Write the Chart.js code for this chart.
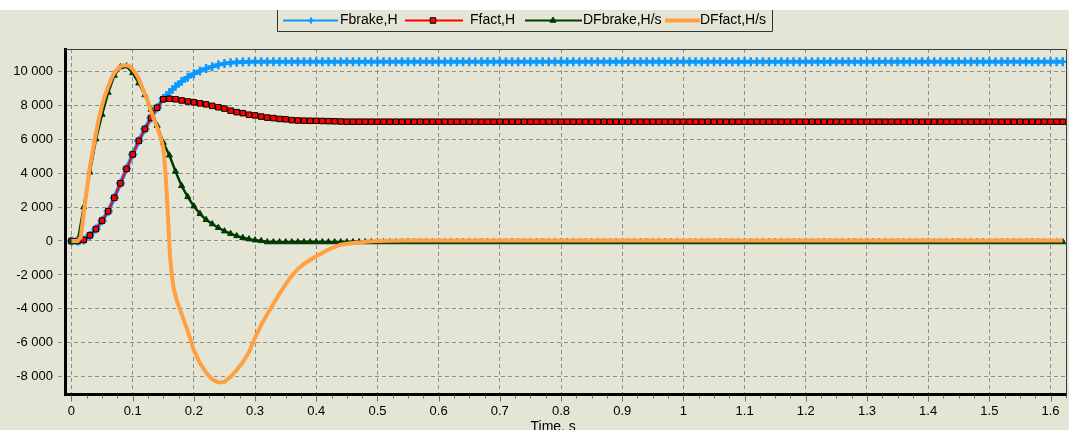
<!DOCTYPE html>
<html>
<head>
<meta charset="utf-8">
<title>Fbrake / Ffact</title>
<script src="https://cdn.jsdelivr.net/npm/chart.js@4/dist/chart.umd.min.js"></script>
<style>
  html, body { margin: 0; padding: 0; background: #ffffff; }
  canvas { display: block; }
</style>
</head>
<body>
<canvas id="chart" width="1069" height="430"></canvas>
<script>
// Sample instants for the sampled signals, s
const time = [
  0, 0.01, 0.02, 0.03, 0.04, 0.05, 0.06, 0.07, 0.08, 0.09,
  0.1, 0.11, 0.12, 0.13, 0.14, 0.15, 0.16, 0.17, 0.18, 0.19,
  0.2, 0.21, 0.22, 0.23, 0.24, 0.25, 0.26, 0.27, 0.28, 0.29,
  0.3, 0.31, 0.32, 0.33, 0.34, 0.35, 0.36, 0.37, 0.38, 0.39,
  0.4, 0.41, 0.42, 0.43, 0.44, 0.45, 0.46, 0.47, 0.48, 0.49,
  0.5, 0.51, 0.52, 0.53, 0.54, 0.55, 0.56, 0.57, 0.58, 0.59,
  0.6, 0.61, 0.62, 0.63, 0.64, 0.65, 0.66, 0.67, 0.68, 0.69,
  0.7, 0.71, 0.72, 0.73, 0.74, 0.75, 0.76, 0.77, 0.78, 0.79,
  0.8, 0.81, 0.82, 0.83, 0.84, 0.85, 0.86, 0.87, 0.88, 0.89,
  0.9, 0.91, 0.92, 0.93, 0.94, 0.95, 0.96, 0.97, 0.98, 0.99,
  1, 1.01, 1.02, 1.03, 1.04, 1.05, 1.06, 1.07, 1.08, 1.09,
  1.1, 1.11, 1.12, 1.13, 1.14, 1.15, 1.16, 1.17, 1.18, 1.19,
  1.2, 1.21, 1.22, 1.23, 1.24, 1.25, 1.26, 1.27, 1.28, 1.29,
  1.3, 1.31, 1.32, 1.33, 1.34, 1.35, 1.36, 1.37, 1.38, 1.39,
  1.4, 1.41, 1.42, 1.43, 1.44, 1.45, 1.46, 1.47, 1.48, 1.49,
  1.5, 1.51, 1.52, 1.53, 1.54, 1.55, 1.56, 1.57, 1.58, 1.59,
  1.6, 1.61, 1.62
];

// Commanded braking force, H
const fbrake = [
  0, 0, 60, 330, 700, 1200, 1750, 2550, 3400, 4250,
  5100, 5900, 6600, 7250, 7850, 8400, 8750, 9100, 9400, 9650,
  9850, 10020, 10160, 10270, 10380, 10450, 10500, 10530, 10550, 10560,
  10560, 10560, 10560, 10560, 10560, 10560, 10560, 10560, 10560, 10560,
  10560, 10560, 10560, 10560, 10560, 10560, 10560, 10560, 10560, 10560,
  10560, 10560, 10560, 10560, 10560, 10560, 10560, 10560, 10560, 10560,
  10560, 10560, 10560, 10560, 10560, 10560, 10560, 10560, 10560, 10560,
  10560, 10560, 10560, 10560, 10560, 10560, 10560, 10560, 10560, 10560,
  10560, 10560, 10560, 10560, 10560, 10560, 10560, 10560, 10560, 10560,
  10560, 10560, 10560, 10560, 10560, 10560, 10560, 10560, 10560, 10560,
  10560, 10560, 10560, 10560, 10560, 10560, 10560, 10560, 10560, 10560,
  10560, 10560, 10560, 10560, 10560, 10560, 10560, 10560, 10560, 10560,
  10560, 10560, 10560, 10560, 10560, 10560, 10560, 10560, 10560, 10560,
  10560, 10560, 10560, 10560, 10560, 10560, 10560, 10560, 10560, 10560,
  10560, 10560, 10560, 10560, 10560, 10560, 10560, 10560, 10560, 10560,
  10560, 10560, 10560, 10560, 10560, 10560, 10560, 10560, 10560, 10560,
  10560, 10560, 10560
];

// Actual braking force, H
const ffact = [
  0, 0, 60, 330, 700, 1200, 1750, 2550, 3400, 4250,
  5100, 5900, 6600, 7250, 7850, 8350, 8380, 8350, 8280, 8220,
  8170, 8110, 8050, 7960, 7880, 7800, 7680, 7590, 7530, 7440,
  7400, 7330, 7270, 7240, 7190, 7170, 7120, 7100, 7090, 7080,
  7080, 7070, 7060, 7050, 7040, 7030, 7030, 7030, 7030, 7030,
  7030, 7030, 7030, 7030, 7030, 7030, 7030, 7030, 7030, 7030,
  7030, 7030, 7030, 7030, 7030, 7030, 7030, 7030, 7030, 7030,
  7030, 7030, 7030, 7030, 7030, 7030, 7030, 7030, 7030, 7030,
  7030, 7030, 7030, 7030, 7030, 7030, 7030, 7030, 7030, 7030,
  7030, 7030, 7030, 7030, 7030, 7030, 7030, 7030, 7030, 7030,
  7030, 7030, 7030, 7030, 7030, 7030, 7030, 7030, 7030, 7030,
  7030, 7030, 7030, 7030, 7030, 7030, 7030, 7030, 7030, 7030,
  7030, 7030, 7030, 7030, 7030, 7030, 7030, 7030, 7030, 7030,
  7030, 7030, 7030, 7030, 7030, 7030, 7030, 7030, 7030, 7030,
  7030, 7030, 7030, 7030, 7030, 7030, 7030, 7030, 7030, 7030,
  7030, 7030, 7030, 7030, 7030, 7030, 7030, 7030, 7030, 7030,
  7030, 7030, 7030
];

// Rate of the commanded force, H/s
const dfbrake = [
  -60, -60, 2000, 4050, 6000, 7450, 8750, 9750, 10250, 10300,
  9900, 9300, 8600, 7750, 6800, 5800, 5050, 4100, 3250, 2600,
  2050, 1600, 1250, 1000, 780, 580, 430, 300, 190, 110,
  50, 10, -60, -60, -60, -60, -60, -60, -60, -60,
  -60, -60, -60, -60, -60, -60, -60, -60, -60, -60,
  -60, -60, -60, -60, -60, -60, -60, -60, -60, -60,
  -60, -60, -60, -60, -60, -60, -60, -60, -60, -60,
  -60, -60, -60, -60, -60, -60, -60, -60, -60, -60,
  -60, -60, -60, -60, -60, -60, -60, -60, -60, -60,
  -60, -60, -60, -60, -60, -60, -60, -60, -60, -60,
  -60, -60, -60, -60, -60, -60, -60, -60, -60, -60,
  -60, -60, -60, -60, -60, -60, -60, -60, -60, -60,
  -60, -60, -60, -60, -60, -60, -60, -60, -60, -60,
  -60, -60, -60, -60, -60, -60, -60, -60, -60, -60,
  -60, -60, -60, -60, -60, -60, -60, -60, -60, -60,
  -60, -60, -60, -60, -60, -60, -60, -60, -60, -60,
  -60, -60, -60
];

// Rate of the actual force, H/s (finer sampling through the fast transient)
const timeFact = [
  0, 0.01, 0.015, 0.02, 0.025, 0.03, 0.035, 0.04, 0.045, 0.05,
  0.055, 0.06, 0.065, 0.07, 0.075, 0.08, 0.085, 0.09, 0.095, 0.1,
  0.105, 0.11, 0.115, 0.12, 0.125, 0.13, 0.135, 0.14, 0.145, 0.15,
  0.153, 0.155, 0.157, 0.159, 0.161, 0.164, 0.167, 0.172, 0.178, 0.19,
  0.2, 0.21, 0.22, 0.23, 0.24, 0.25, 0.26, 0.27, 0.28, 0.29,
  0.3, 0.31, 0.32, 0.33, 0.34, 0.35, 0.36, 0.37, 0.38, 0.39,
  0.4, 0.41, 0.42, 0.43, 0.44, 0.45, 0.46, 0.47, 0.48, 0.49,
  0.5, 0.52, 0.55, 1.62
];
const dffact = [
  0, 0, 200, 1600, 3000, 4350, 5350, 6350, 7250, 8000,
  8600, 9100, 9550, 9900, 10120, 10280, 10360, 10360, 10290, 10120,
  9880, 9550, 9100, 8650, 8200, 7650, 7150, 6700, 6200, 5500,
  4300, 3200, 1900, 500, -900, -2000, -2800, -3500, -4100, -5300,
  -6450, -7200, -7750, -8150, -8340, -8300, -8000, -7600, -7150, -6550,
  -5700, -4950, -4300, -3700, -3100, -2550, -2050, -1650, -1350, -1120,
  -900, -700, -500, -360, -220, -160, -120, -85, -50, -20,
  0, 20, 30, 30
];

// Axis tick values
const xTicks = [0, 0.1, 0.2, 0.3, 0.4, 0.5, 0.6, 0.7, 0.8, 0.9, 1, 1.1, 1.2, 1.3, 1.4, 1.5, 1.6];
const yTicks = [-8000, -6000, -4000, -2000, 0, 2000, 4000, 6000, 8000, 10000];
const xMinorStep = 0.025;

const seriesNames = ['Fbrake,H', 'Ffact,H', 'DFbrake,H/s', 'DFfact,H/s'];
const xAxisTitle = 'Time, s';

const PANEL = '#E5E5D5';
const GRID = '#8E8E8E';
const BLUE = '#0C98FF';
const RED = '#FF0000';
const GREEN = '#003A00';
const ORANGE = '#FFA042';
const FONT = 'Liberation Sans, Arial, sans-serif';

const toPoints = (xs, ys) => xs.map((x, i) => ({ x: x, y: ys[i] }));

function formatThousands(v) {
  const r = Math.round(v);
  const s = Math.abs(r).toString().replace(/\B(?=(\d{3})+(?!\d))/g, ' ');
  return (r < 0 ? '-' : '') + s;
}
function formatTime(v) {
  const r = Math.round(v * 10) / 10;
  return Number.isInteger(r) ? String(r) : r.toFixed(1);
}

// Beige panel behind everything, white strip on top
const panelPlugin = {
  id: 'panel',
  beforeDraw(chart) {
    const c = chart.ctx;
    c.save();
    c.fillStyle = '#ffffff';
    c.fillRect(0, 0, chart.width, chart.height);
    c.fillStyle = PANEL;
    c.fillRect(0, 10, chart.width, chart.height - 10);
    c.restore();
  }
};

// Frame, minor ticks, legend and axis title
const decorPlugin = {
  id: 'decor',
  afterDraw(chart) {
    const c = chart.ctx;
    const a = chart.chartArea;
    const xs = chart.scales.x;
    c.save();

    // thin top and right frame
    c.lineWidth = 1;
    c.strokeStyle = '#3C3C3C';
    c.beginPath();
    c.moveTo(a.left, Math.round(a.top) + 0.5);
    c.lineTo(a.right + 0.5, Math.round(a.top) + 0.5);
    c.lineTo(a.right + 0.5, a.bottom);
    c.stroke();

    // tick marks under the time axis
    c.strokeStyle = '#6E6E6E';
    const nMinor = Math.round(xs.max / xMinorStep);
    for (let k = 0; k <= nMinor; k++) {
      const v = k * xMinorStep;
      const px = Math.round(xs.getPixelForValue(v)) + 0.5;
      const len = (k % 4 === 0) ? 6 : 3;
      c.beginPath();
      c.moveTo(px, a.bottom + 1);
      c.lineTo(px, a.bottom + 1 + len);
      c.stroke();
    }

    // legend
    const ly = 20.5;
    c.strokeStyle = '#333333';
    c.lineWidth = 1;
    c.beginPath();
    c.moveTo(277.5, 10);
    c.lineTo(277.5, 31.5);
    c.lineTo(772.5, 31.5);
    c.lineTo(772.5, 10);
    c.stroke();

    const entries = [
      { x1: 283, x2: 338, mx: 311, tx: 340 },
      { x1: 405, x2: 463, mx: 433, tx: 470 },
      { x1: 525, x2: 582, mx: 553, tx: 583 },
      { x1: 665, x2: 700, mx: null, tx: 700 }
    ];
    chart.data.datasets.forEach((ds, i) => {
      const e = entries[i];
      c.strokeStyle = ds.borderColor;
      c.lineWidth = ds.legendLineWidth;
      c.beginPath();
      c.moveTo(e.x1, ly);
      c.lineTo(e.x2, ly);
      c.stroke();
      if (e.mx !== null) {
        c.fillStyle = ds.pointBackgroundColor;
        c.strokeStyle = ds.pointBorderColor;
        c.lineWidth = ds.legendPointBorder;
        Chart.helpers.drawPoint(c, {
          pointStyle: ds.pointStyle,
          radius: ds.legendPointRadius,
          rotation: 0,
          borderWidth: ds.legendPointBorder
        }, e.mx, ly);
      }
      c.fillStyle = '#000000';
      c.font = '14px ' + FONT;
      c.textAlign = 'left';
      c.textBaseline = 'middle';
      c.fillText(ds.label, e.tx, ly);
    });

    // axis title
    c.fillStyle = '#000000';
    c.font = '14px ' + FONT;
    c.textAlign = 'left';
    c.textBaseline = 'alphabetic';
    c.fillText(xAxisTitle, 530.5, 431);

    c.restore();
  }
};

new Chart(document.getElementById('chart').getContext('2d'), {
  type: 'line',
  data: {
    datasets: [
      {
        label: seriesNames[0],
        data: toPoints(time, fbrake),
        borderColor: BLUE,
        backgroundColor: BLUE,
        borderWidth: 4,
        pointStyle: 'cross',
        pointRadius: 4.5,
        pointBorderWidth: 2.5,
        pointBackgroundColor: BLUE,
        pointBorderColor: BLUE,
        legendLineWidth: 2,
        legendPointRadius: 3,
        legendPointBorder: 2,
        order: 3
      },
      {
        label: seriesNames[1],
        data: toPoints(time, ffact),
        borderColor: RED,
        backgroundColor: RED,
        borderWidth: 2,
        pointStyle: 'rect',
        pointRadius: 3.9,
        pointBorderWidth: 1,
        pointBackgroundColor: RED,
        pointBorderColor: '#000000',
        legendLineWidth: 2,
        legendPointRadius: 3.9,
        legendPointBorder: 1,
        order: 2
      },
      {
        label: seriesNames[2],
        data: toPoints(time, dfbrake),
        borderColor: GREEN,
        backgroundColor: GREEN,
        borderWidth: 2.5,
        pointStyle: 'triangle',
        pointRadius: 3.5,
        pointBorderWidth: 1,
        pointBackgroundColor: GREEN,
        pointBorderColor: GREEN,
        legendLineWidth: 2,
        legendPointRadius: 3.5,
        legendPointBorder: 1,
        order: 1
      },
      {
        label: seriesNames[3],
        data: toPoints(timeFact, dffact),
        borderColor: ORANGE,
        backgroundColor: ORANGE,
        borderWidth: 4,
        pointRadius: 0,
        pointBackgroundColor: ORANGE,
        pointBorderColor: ORANGE,
        pointBorderWidth: 0,
        legendLineWidth: 4,
        legendPointBorder: 0,
        order: 0
      }
    ]
  },
  options: {
    responsive: false,
    animation: false,
    devicePixelRatio: 1,
    events: [],
    layout: { padding: { top: 49, left: 0, right: 3, bottom: 0 }, autoPadding: false },
    plugins: {
      legend: { display: false },
      tooltip: { enabled: false },
      title: { display: false }
    },
    scales: {
      x: {
        type: 'linear',
        min: -0.0106,
        max: 1.6253,
        afterFit(s) { s.height = 35.5; },
        afterBuildTicks(s) { s.ticks = xTicks.map((v) => ({ value: v })); },
        grid: { color: GRID, lineWidth: 1, drawTicks: false },
        border: { display: true, color: '#000000', width: 3, dash: [4, 3] },
        ticks: {
          autoSkip: false,
          maxRotation: 0,
          padding: 9,
          color: '#000000',
          font: { family: FONT, size: 13 },
          callback: (v) => formatTime(v)
        }
      },
      y: {
        type: 'linear',
        min: -9043,
        max: 11311,
        afterFit(s) { s.width = 65; },
        afterBuildTicks(s) { s.ticks = yTicks.map((v) => ({ value: v })); },
        grid: { color: GRID, lineWidth: 1, drawTicks: true, tickLength: 7, tickColor: GRID, tickBorderDash: [4, 3] },
        border: { display: true, color: '#000000', width: 3, dash: [4, 3] },
        ticks: {
          autoSkip: false,
          padding: 5,
          color: '#000000',
          font: { family: FONT, size: 13 },
          callback: (v) => formatThousands(v)
        }
      }
    }
  },
  plugins: [panelPlugin, decorPlugin]
});
</script>
</body>
</html>
